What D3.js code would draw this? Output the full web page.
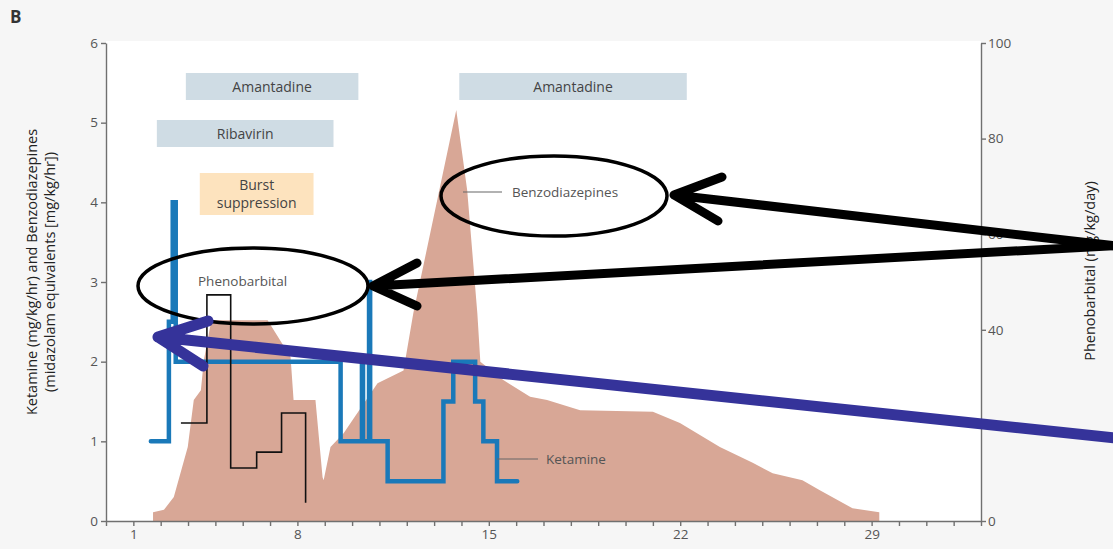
<!DOCTYPE html>
<meta charset="utf-8">
<style>
body { margin: 0; background: #f6f6f6; }
svg { display: block; font-family: "Open Sans", sans-serif; }
.axis path, .axis line { stroke: #707070; stroke-width: 1.4; }
.axis text { fill: #555; font-size: 13.5px; font-family: "Open Sans", sans-serif; }
</style>
<body>
<svg width="1113" height="549"></svg>
<script src="https://cdn.jsdelivr.net/npm/d3@7/dist/d3.min.js"></script>
<script>
// day ticks on the bottom axis (labels sit on tick positions 1, 7, 14, 21, 28)
var dayTicks = [1, 7, 14, 21, 28];
var dayLabels = ["1", "8", "15", "22", "29"];
var leftTicks = [0, 1, 2, 3, 4, 5, 6];
var rightTicks = [0, 20, 40, 60, 80, 100];

// benzodiazepines (midazolam equivalents, mg/kg/hr) - outline of the area
var benzoDay  = [1.72, 1.72, 2.12, 2.48, 2.99, 3.21, 3.47, 3.58, 3.83, 3.94, 5.91, 6.75, 6.86, 7.66, 7.92, 7.96, 8.21, 8.69, 9.93, 10.88, 11.24, 12.81, 13.21, 13.58, 13.69, 14.53, 15.51, 16.13, 17.34, 20.0, 20.99, 22.45, 23.65, 24.38, 25.47, 26.09, 27.3, 28.28, 28.28];
var benzoDose = [0, 0.11, 0.14, 0.30, 0.93, 1.52, 1.64, 2.02, 2.48, 2.52, 2.52, 2.06, 1.52, 1.52, 0.55, 0.51, 0.93, 1.10, 1.73, 1.89, 2.61, 5.16, 4.15, 2.61, 2.00, 1.77, 1.56, 1.52, 1.39, 1.37, 1.23, 0.93, 0.73, 0.60, 0.51, 0.39, 0.16, 0.11, 0];

// ketamine (mg/kg/hr), dose changes
var ketDay  = [1.64, 2.3, 2.44, 2.55, 8.58, 9.36, 9.4, 9.62, 9.66, 10.3, 12.34, 12.7, 13.5, 13.8, 14.3, 15.04];
var ketDose = [1, 2.5, 4, 2, 1, 2, 1, 3, 1, 0.5, 1.5, 2, 1.5, 1, 0.5, 0.5];

// phenobarbital (mg/kg/day), dose changes
var phenoDay  = [2.74, 3.69, 4.56, 5.51, 6.42, 7.30];
var phenoDose = [20.5, 47.3, 11.1, 14.4, 22.6, 3.8];

// treatment periods
var treatName  = ["Amantadine", "Ribavirin", "Burst|suppression", "Amantadine"];
var treatStart = [2.92, 1.86, 3.43, 12.92];
var treatEnd   = [9.23, 8.32, 7.59, 21.24];

var svg = d3.select("svg"),
    margin = {top: 43, right: 132, bottom: 28, left: 106},
    width = 1113 - margin.left - margin.right,
    height = 549 - margin.top - margin.bottom;

var x = d3.scaleLinear().domain([0, 32]).range([margin.left, margin.left + width]);
var yL = d3.scaleLinear().domain([0, 6]).range([margin.top + height, margin.top]);
var yR = d3.scaleLinear().domain([0, 100]).range([margin.top + height, margin.top]);

// white plot panel
svg.append("rect")
    .attr("x", x(0)).attr("y", yL(6) - 2)
    .attr("width", x(32) - x(0)).attr("height", yL(0) - yL(6) + 2)
    .attr("fill", "#fff");

svg.append("text")
    .attr("x", 10).attr("y", 23)
    .attr("font-size", 17).attr("font-weight", "bold").attr("fill", "#333")
    .text("B");

// treatment bars
var lanes = [0, 1, 2, 0];
var laneTop = [73, 120, 173], laneH = [27, 27, 42];
var colors = ["#cfdce4", "#cfdce4", "#fde3be", "#cfdce4"];
treatName.forEach(function(n, i) {
  var l = lanes[i];
  svg.append("rect")
      .attr("x", x(treatStart[i])).attr("y", laneTop[l])
      .attr("width", x(treatEnd[i]) - x(treatStart[i])).attr("height", laneH[l])
      .attr("fill", colors[i]);
  var parts = n.split("|");
  var cx = (x(treatStart[i]) + x(treatEnd[i])) / 2;
  parts.forEach(function(p, j) {
    svg.append("text")
        .attr("x", cx)
        .attr("y", laneTop[l] + laneH[l] / 2 + 5 + (j - (parts.length - 1) / 2) * 18)
        .attr("text-anchor", "middle")
        .attr("font-size", 14).attr("fill", "#444")
        .text(p);
  });
});

// benzodiazepine area
var benzo = benzoDay.map(function(d, i) { return [d, benzoDose[i]]; });
svg.append("path")
    .datum(benzo)
    .attr("fill", "#d8a796")
    .attr("d", d3.area()
        .x(function(d) { return x(d[0]); })
        .y0(yL(0))
        .y1(function(d) { return yL(d[1]); }));

// ketamine
var ket = ketDay.map(function(d, i) { return [d, ketDose[i]]; });
svg.append("path")
    .datum(ket)
    .attr("fill", "none")
    .attr("stroke", "#1a79b9")
    .attr("stroke-width", 4.5)
    .attr("stroke-linecap", "round")
    .attr("d", d3.line()
        .curve(d3.curveStepAfter)
        .x(function(d) { return x(d[0]); })
        .y(function(d) { return yL(d[1]); }));

// phenobarbital
var pheno = phenoDay.map(function(d, i) { return [d, phenoDose[i]]; });
svg.append("path")
    .datum(pheno)
    .attr("fill", "none")
    .attr("stroke", "#111")
    .attr("stroke-width", 1.6)
    .attr("d", d3.line()
        .curve(d3.curveStepAfter)
        .x(function(d) { return x(d[0]); })
        .y(function(d) { return yR(d[1]); }));

// axes
svg.append("g")
    .attr("class", "axis")
    .attr("transform", "translate(0," + yL(0) + ")")
    .call(d3.axisBottom(x)
        .tickValues(d3.range(0, 33))
        .tickSize(5).tickSizeOuter(0)
        .tickFormat(function(d) {
          var k = dayTicks.indexOf(d);
          return k < 0 ? "" : dayLabels[k];
        }));

svg.append("g")
    .attr("class", "axis")
    .attr("transform", "translate(" + x(0) + ",0)")
    .call(d3.axisLeft(yL).tickValues(leftTicks).tickFormat(d3.format("d")).tickSize(5).tickSizeOuter(0));

svg.append("g")
    .attr("class", "axis")
    .attr("transform", "translate(" + x(32) + ",0)")
    .call(d3.axisRight(yR).tickValues(rightTicks).tickSize(5).tickSizeOuter(0).tickPadding(2));

// axis titles
svg.append("text")
    .attr("transform", "translate(37,272) rotate(-90)")
    .attr("text-anchor", "middle").attr("font-size", 14.5).attr("fill", "#222")
    .text("Ketamine (mg/kg/hr) and Benzodiazepines");
svg.append("text")
    .attr("transform", "translate(55,272) rotate(-90)")
    .attr("text-anchor", "middle").attr("font-size", 14.5).attr("fill", "#222")
    .text("(midazolam equivalents [mg/kg/hr])");
svg.append("text")
    .attr("transform", "translate(1095,271) rotate(-90)")
    .attr("text-anchor", "middle").attr("font-size", 14.5).attr("fill", "#222")
    .text("Phenobarbital (mg/kg/day)");

// series labels
function label(tx, ty, s, lx0, lx1) {
  if (lx0 != null) {
    svg.append("line")
        .attr("x1", lx0).attr("x2", lx1).attr("y1", ty - 5).attr("y2", ty - 5)
        .attr("stroke", "#666").attr("stroke-width", 1.2);
  }
  svg.append("text")
      .attr("x", tx).attr("y", ty)
      .attr("font-size", 13.5).attr("fill", "#555")
      .text(s);
}
label(198, 286, "Phenobarbital");
label(512, 197, "Benzodiazepines", 463, 502);
label(546, 464, "Ketamine", 497, 538);

// hand-drawn highlights
var marks = svg.append("g").attr("fill", "none").attr("stroke-linecap", "round").attr("stroke-linejoin", "round");
marks.append("ellipse").attr("cx", 253).attr("cy", 286).attr("rx", 115).attr("ry", 38)
    .attr("stroke", "#000").attr("stroke-width", 3.5);
marks.append("ellipse").attr("cx", 554).attr("cy", 196).attr("rx", 113).attr("ry", 40)
    .attr("stroke", "#000").attr("stroke-width", 3.5);

function arrow(x0, y0, tx, ty, b1, b2, col, w) {
  marks.append("path")
      .attr("d", "M" + x0 + "," + y0 + "L" + tx + "," + ty +
                 "M" + b1[0] + "," + b1[1] + "L" + tx + "," + ty + "L" + b2[0] + "," + b2[1])
      .attr("stroke", col).attr("stroke-width", w);
}
arrow(1125, 247, 674, 195, [722, 177], [718, 221], "#000", 9);
arrow(1125, 245, 373, 286, [417, 263], [417, 306], "#000", 9);
arrow(1125, 439, 158, 337, [208, 321], [203, 366], "#35339a", 11);
</script>
</body>
